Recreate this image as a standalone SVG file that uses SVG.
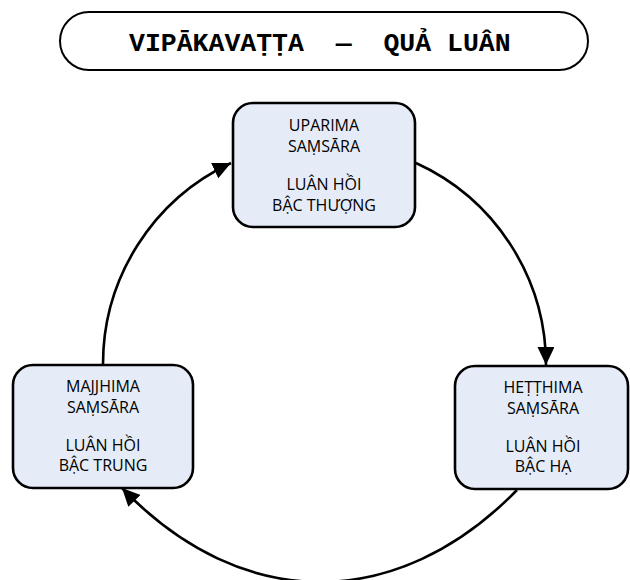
<svg xmlns="http://www.w3.org/2000/svg" width="630" height="580" viewBox="0 0 630 580">
  <defs>
    <marker id="arrow" markerUnits="userSpaceOnUse" markerWidth="20" markerHeight="20" refX="18" refY="8.5" orient="auto">
      <path d="M0,0 L18,8.5 L0,17 Z" fill="#000"/>
    </marker>
    <style>
      .title-box { fill: #fff; stroke: #000; stroke-width: 2; }
      .title { font-family: "Liberation Mono", "DejaVu Sans Mono", monospace; font-weight: bold; font-size: 26.5px; fill: #000; }
      .node rect { fill: #e6ecf7; stroke: #000; stroke-width: 2.6; }
      .node text { font-family: "Open Sans", "Noto Sans", sans-serif; font-size: 16px; fill: #000; text-anchor: middle; }
      .edge { fill: none; stroke: #000; stroke-width: 2.6; marker-end: url(#arrow); }
    </style>
  </defs>

  <rect width="630" height="580" fill="#fff"/>

  <!-- heading -->
  <g id="heading">
    <rect class="title-box" x="60" y="12" width="528" height="58" rx="29" ry="29"/>
    <text class="title" x="129" y="51" xml:space="preserve">VIPĀKAVAṬṬA  —  QUẢ LUÂN</text>
  </g>

  <!-- connectors -->
  <g id="connectors">
    <path class="edge" d="M103,365 A222,222 0 0 1 231,163"/>
    <path class="edge" d="M416,163 A222,222 0 0 1 546,365"/>
    <path class="edge" d="M517,490 C397,613 242,613 122,488"/>
  </g>

  <!-- nodes -->
  <g id="uparima" class="node">
    <rect x="233" y="103" width="182" height="124" rx="20" ry="20"/>
    <text x="324" y="131">UPARIMA</text>
    <text x="324" y="152">SAṂSĀRA</text>
    <text x="324" y="190">LUÂN HỒI</text>
    <text x="324" y="211">BẬC THƯỢNG</text>
  </g>

  <g id="majjhima" class="node">
    <rect x="13" y="365" width="180" height="123" rx="20" ry="20"/>
    <text x="103" y="392">MAJJHIMA</text>
    <text x="103" y="413">SAṂSĀRA</text>
    <text x="103" y="451">LUÂN HỒI</text>
    <text x="103" y="471">BẬC TRUNG</text>
  </g>

  <g id="hetthima" class="node">
    <rect x="455" y="366" width="173" height="123" rx="20" ry="20"/>
    <text x="543" y="393">HEṬṬHIMA</text>
    <text x="543" y="414">SAṂSĀRA</text>
    <text x="543" y="452">LUÂN HỒI</text>
    <text x="543" y="472">BẬC HẠ</text>
  </g>
</svg>
